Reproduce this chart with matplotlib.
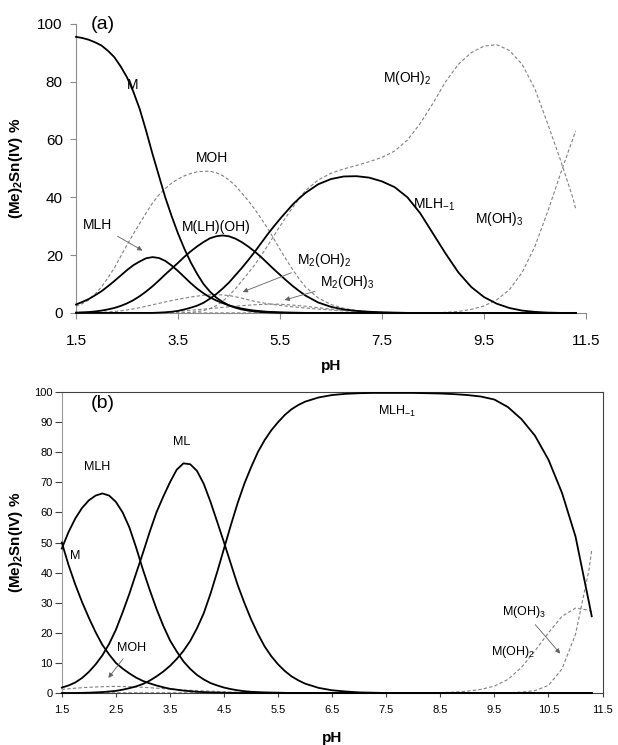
import matplotlib
matplotlib.use("Agg")
import matplotlib.pyplot as plt

plt.rcParams['font.family'] = ['Liberation Sans', 'DejaVu Sans']
plt.rcParams['mathtext.fontset'] = 'custom'
plt.rcParams['mathtext.rm'] = 'Liberation Sans'
plt.rcParams['mathtext.it'] = 'Liberation Sans:italic'
plt.rcParams['mathtext.bf'] = 'Liberation Sans:bold'

# pH sample points, finer where the peaks are (same for both panels)
ph = [1.5, 1.625, 1.75, 1.875, 2.0, 2.125, 2.25, 2.375, 2.5, 2.625,
      2.75, 2.875, 3.0, 3.125, 3.25, 3.375, 3.5, 3.625, 3.75, 3.875,
      4.0, 4.125, 4.25, 4.375, 4.5, 4.625, 4.75, 4.875, 5.0, 5.125,
      5.25, 5.375, 5.5, 5.625, 5.75, 5.875, 6.0,
      6.25, 6.5, 6.75, 7.0, 7.25, 7.5, 7.75, 8.0, 8.25, 8.5, 8.75,
      9.0, 9.25, 9.5, 9.75, 10.0, 10.25, 10.5, 10.75, 11.0, 11.25, 11.3]

# ---- panel (a) ----
a_M = [95.5, 95.1, 94.5, 93.6, 92.5, 90.7, 88.5, 85.3, 81.5, 76.5,
       70.5, 63, 55, 47.5, 40, 33.5, 27.5, 22.2, 17.5, 13.5,
       10, 7.4, 5.3, 3.8, 2.6, 1.8, 1.2, 0.8, 0.5, 0.3,
       0.2, 0.1, 0.05, 0, 0, 0, 0,
       0, 0, 0, 0, 0, 0, 0, 0, 0, 0, 0,
       0, 0, 0, 0, 0, 0, 0, 0, 0, 0, 0]
a_MLH = [2.9, 3.8, 4.8, 6.1, 7.5, 9.2, 11, 12.9, 14.8, 16.5,
         17.8, 18.9, 19.3, 19, 18, 16.4, 14.5, 12.4, 10.3, 8.4,
         6.8, 5.4, 4.3, 3.4, 2.6, 2, 1.5, 1.1, 0.8, 0.6,
         0.4, 0.3, 0.2, 0.15, 0.1, 0.05, 0,
         0, 0, 0, 0, 0, 0, 0, 0, 0, 0, 0,
         0, 0, 0, 0, 0, 0, 0, 0, 0, 0, 0]
a_MLHOH = [0.1, 0.2, 0.3, 0.5, 0.8, 1.2, 1.7, 2.4, 3.3, 4.4,
           5.8, 7.4, 9.2, 11.2, 13.3, 15.3, 17.3, 19.4, 21.3, 23,
           24.5, 25.8, 26.5, 26.8, 26.5, 25.7, 24.5, 23, 21.3, 19.4,
           17.3, 15.2, 13.2, 11.2, 9.3, 7.6, 6,
           3.6, 2.1, 1.2, 0.7, 0.4, 0.2, 0.1, 0, 0, 0, 0,
           0, 0, 0, 0, 0, 0, 0, 0, 0, 0, 0]
a_MLHm1 = [0, 0, 0, 0, 0, 0, 0, 0, 0, 0,
           0, 0, 0, 0.1, 0.2, 0.4, 0.7, 1.2, 1.8, 2.5,
           3.5, 4.9, 6.5, 8.4, 10.5, 13, 15.5, 18.2, 21, 24,
           27, 29.8, 32.5, 35, 37.5, 39.6, 41.5,
           44.5, 46.3, 47.2, 47.3, 46.8, 45.5, 43.5, 40, 34.5, 27.5, 20.5,
           14, 9, 5.5, 3.2, 1.7, 0.8, 0.35, 0.1, 0, 0, 0]
a_MOH = [2.3, 3.2, 4.5, 6.5, 9, 12.1, 15.5, 19.5, 23.5, 27.3,
         31, 34.6, 38, 40.8, 43, 44.9, 46.3, 47.4, 48.2, 48.8,
         49, 49, 48.5, 47.5, 46, 44, 41.5, 38.9, 36, 32.8,
         29.5, 25.8, 22, 18.4, 15, 11.8, 9,
         5.2, 2.9, 1.6, 0.8, 0.4, 0.2, 0.1, 0, 0, 0, 0,
         0, 0, 0, 0, 0, 0, 0, 0, 0, 0, 0]
a_M2OH2 = [0, 0, 0, 0.1, 0.2, 0.35, 0.5, 0.7, 1, 1.4,
           1.8, 2.3, 2.8, 3.3, 3.8, 4.25, 4.7, 5.1, 5.5, 5.8,
           6.1, 6.25, 6.3, 6.2, 6, 5.6, 5.1, 4.55, 4, 3.6,
           3.2, 2.9, 2.6, 2.35, 2.1, 1.9, 1.7,
           1.3, 1, 0.7, 0.5, 0.3, 0.2, 0.1, 0, 0, 0, 0,
           0, 0, 0, 0, 0, 0, 0, 0, 0, 0, 0]
a_M2OH3 = [0, 0, 0, 0, 0, 0, 0, 0, 0, 0,
           0, 0, 0, 0.1, 0.2, 0.35, 0.5, 0.7, 0.9, 1.1,
           1.3, 1.5, 1.7, 1.9, 2.1, 2.3, 2.5, 2.65, 2.8, 2.9,
           3, 3.05, 3, 2.85, 2.7, 2.5, 2.3,
           1.8, 1.3, 0.9, 0.6, 0.4, 0.2, 0.1, 0, 0, 0, 0,
           0, 0, 0, 0, 0, 0, 0, 0, 0, 0, 0]
a_MOH2 = [0, 0, 0, 0, 0, 0, 0, 0, 0, 0,
          0, 0, 0, 0, 0, 0, 0, 0.05, 0.2, 0.45,
          0.8, 1.5, 2.5, 4, 6, 8.3, 11, 13.7, 16.5, 19.7,
          23, 26.5, 30, 33.3, 36.5, 39.5, 42.3,
          46, 48.3, 49.8, 51, 52.3, 53.8, 56, 59.8, 65.5, 72.5, 80,
          86, 90, 92.3, 92.8, 90.8, 86, 77.5, 65.5, 53, 39.5, 36]
a_MOH3 = [0, 0, 0, 0, 0, 0, 0, 0, 0, 0,
          0, 0, 0, 0, 0, 0, 0, 0, 0, 0,
          0, 0, 0, 0, 0, 0, 0, 0, 0, 0,
          0, 0, 0, 0, 0, 0, 0,
          0, 0, 0, 0, 0, 0, 0, 0, 0, 0, 0.2,
          0.5, 1.2, 2.4, 4.5, 8, 14, 23, 35, 48, 60.5, 63]

# ---- panel (b) ----
b_M = [50, 42.5, 36, 30.2, 25, 20.2, 16, 12.8, 10, 8.1,
       6.5, 5.1, 4, 3.2, 2.5, 1.9, 1.4, 1.1, 0.8, 0.6,
       0.4, 0.3, 0.2, 0.15, 0.1, 0.05, 0, 0, 0, 0,
       0, 0, 0, 0, 0, 0, 0,
       0, 0, 0, 0, 0, 0, 0, 0, 0, 0, 0,
       0, 0, 0, 0, 0, 0, 0, 0, 0, 0, 0]
b_MLH = [48, 53.5, 58, 61.5, 64, 65.6, 66.3, 65.6, 63.5, 60,
         55, 48.3, 41, 34.3, 28, 22.4, 17.5, 13.8, 10.5, 8,
         6, 4.5, 3.3, 2.5, 1.8, 1.3, 0.9, 0.6, 0.4, 0.3,
         0.2, 0.15, 0.1, 0.05, 0, 0, 0,
         0, 0, 0, 0, 0, 0, 0, 0, 0, 0, 0,
         0, 0, 0, 0, 0, 0, 0, 0, 0, 0, 0]
b_ML = [1.8, 2.5, 3.5, 5, 7, 9.5, 12.5, 16.3, 21, 26.8,
        33, 39.8, 46.5, 53.5, 60, 65.2, 70, 74.2, 76.3, 76,
        73.8, 69.5, 63.5, 56.8, 50, 43, 36, 30, 24.5, 19.7,
        15.5, 12.2, 9.5, 7.3, 5.5, 4.2, 3.1,
        1.7, 0.9, 0.5, 0.2, 0.1, 0, 0, 0, 0, 0, 0,
        0, 0, 0, 0, 0, 0, 0, 0, 0, 0, 0]
b_MLHm1 = [0, 0, 0, 0.05, 0.1, 0.2, 0.3, 0.5, 0.7, 1.1,
           1.6, 2.2, 3, 4.1, 5.5, 7.1, 9, 11.3, 14, 17.3,
           21.5, 26.5, 33, 40.3, 48, 55.7, 63, 69.5, 75, 80,
           84, 87.3, 90, 92.4, 94.3, 95.7, 96.8,
           98.2, 99, 99.4, 99.6, 99.7, 99.7, 99.7, 99.7, 99.6, 99.5, 99.3,
           99, 98.5, 97.5, 95, 91, 85.5, 77.5, 66.5, 52, 30, 25.5]
b_MOH = [1.2, 1.4, 1.6, 1.75, 1.9, 2, 2.1, 2.15, 2.2, 2.15,
         2.1, 2, 1.9, 1.75, 1.6, 1.45, 1.3, 1.15, 1.0, 0.9,
         0.8, 0.7, 0.6, 0.5, 0.4, 0.3, 0.25, 0.15, 0.1, 0.07,
         0.05, 0, 0, 0, 0, 0, 0,
         0, 0, 0, 0, 0, 0, 0, 0, 0, 0, 0,
         0, 0, 0, 0, 0, 0, 0, 0, 0, 0, 0]
b_MOH2 = [0, 0, 0, 0, 0, 0, 0, 0, 0, 0,
          0, 0, 0, 0, 0, 0, 0, 0, 0, 0,
          0, 0, 0, 0, 0, 0, 0, 0, 0, 0,
          0, 0, 0, 0, 0, 0, 0,
          0, 0, 0, 0, 0, 0, 0, 0, 0, 0.1, 0.3,
          0.6, 1.2, 2.3, 4.5, 8.5, 14, 20, 25.5, 28.2, 27.5, 27]
b_MOH3 = [0, 0, 0, 0, 0, 0, 0, 0, 0, 0,
          0, 0, 0, 0, 0, 0, 0, 0, 0, 0,
          0, 0, 0, 0, 0, 0, 0, 0, 0, 0,
          0, 0, 0, 0, 0, 0, 0,
          0, 0, 0, 0, 0, 0, 0, 0, 0, 0, 0,
          0, 0, 0, 0.1, 0.3, 0.8, 2.5, 8, 19.5, 41, 47.5]

ylab = '(Me)$_\\mathbf{2}$Sn(IV) %'
solid = dict(color='black', lw=1.3, clip_on=False, zorder=3)
dash = dict(color='#808080', lw=0.8, ls=(0, (3, 2)), clip_on=False, zorder=2)
arrow = dict(arrowstyle='-|>', color='#606060', lw=0.6, mutation_scale=7)

fig = plt.figure(figsize=(6.18, 7.45), dpi=100)

# ---------- top panel ----------
ax1 = fig.add_axes([0.123, 0.580, 0.825, 0.388])
for y in [a_MOH, a_M2OH2, a_M2OH3, a_MOH2, a_MOH3]:
    ax1.plot(ph, y, **dash)
for y in [a_M, a_MLH, a_MLHOH, a_MLHm1]:
    ax1.plot(ph, y, **solid)
ax1.set_xlim(1.5, 11.5)
ax1.set_ylim(0, 100)
ax1.set_xticks([1.5, 3.5, 5.5, 7.5, 9.5, 11.5])
ax1.set_yticks([0, 20, 40, 60, 80, 100])
ax1.set_xticklabels(['1.5', '3.5', '5.5', '7.5', '9.5', '11.5'])
ax1.spines['top'].set_visible(False)
ax1.spines['right'].set_visible(False)
for s in ['left', 'bottom']:
    ax1.spines[s].set_color('#8c8c8c')
    ax1.spines[s].set_linewidth(0.8)
ax1.tick_params(axis='x', direction='out', length=4.5, width=0.8, color='#8c8c8c', pad=11, labelsize=11)
ax1.tick_params(axis='y', direction='out', length=4.5, width=0.8, color='#8c8c8c', pad=5, labelsize=11)
ax1.set_xlabel('pH', fontsize=11, fontweight='bold')
ax1.xaxis.set_label_coords(0.5, -0.159)
ax1.set_ylabel(ylab, fontsize=11, fontweight='bold')
ax1.yaxis.set_label_coords(-0.10, 0.5)

ax1.text(2.03, 99.6, '(a)', fontsize=14, ha='center', va='center')
ax1.text(2.62, 79, 'M', fontsize=10, ha='center', va='center')
ax1.text(4.17, 53.6, 'MOH', fontsize=10, ha='center', va='center')
ax1.text(4.26, 29.8, 'M(LH)(OH)', fontsize=10, ha='center', va='center')
ax1.text(7.99, 81.3, 'M(OH)$_2$', fontsize=10, ha='center', va='center')
ax1.text(8.1, 37.5, 'MLH$_{-1}$', fontsize=10, ha='left', va='center')
ax1.text(9.81, 32.5, 'M(OH)$_3$', fontsize=10, ha='center', va='center')
ax1.annotate('MLH', xy=(2.85, 21.1), xytext=(1.93, 30.4), fontsize=10,
             ha='center', va='center', arrowprops=arrow)
ax1.annotate('M$_2$(OH)$_2$', xy=(4.72, 6.9), xytext=(6.36, 18.3), fontsize=10,
             ha='center', va='center', arrowprops=arrow)
ax1.annotate('M$_2$(OH)$_3$', xy=(5.54, 4.2), xytext=(6.83, 10.7), fontsize=10,
             ha='center', va='center', arrowprops=arrow)

# ---------- bottom panel ----------
ax2 = fig.add_axes([0.100, 0.0698, 0.875, 0.404])
for y in [b_MOH, b_MOH2, b_MOH3]:
    ax2.plot(ph, y, **dash)
for y in [b_M, b_MLH, b_ML, b_MLHm1]:
    ax2.plot(ph, y, **solid)
ax2.set_xlim(1.5, 11.5)
ax2.set_ylim(0, 100)
ax2.set_xticks([1.5, 2.5, 3.5, 4.5, 5.5, 6.5, 7.5, 8.5, 9.5, 10.5, 11.5])
ax2.set_yticks([0, 10, 20, 30, 40, 50, 60, 70, 80, 90, 100])
for s in ['top', 'right', 'bottom']:
    ax2.spines[s].set_color('#404040')
    ax2.spines[s].set_linewidth(0.8)
ax2.spines['left'].set_color('#9a9a9a')
ax2.spines['left'].set_linewidth(0.8)
ax2.tick_params(axis='x', direction='out', length=3, width=0.8, color='#404040', pad=6, labelsize=8)
ax2.tick_params(axis='y', direction='out', length=5, width=0.8, color='#404040', pad=1.5, labelsize=8)
ax2.set_xlabel('pH', fontsize=11, fontweight='bold')
ax2.xaxis.set_label_coords(0.5, -0.126)
ax2.set_ylabel(ylab, fontsize=11, fontweight='bold')
ax2.yaxis.set_label_coords(-0.068, 0.5)

ax2.text(2.26, 96.3, '(b)', fontsize=14, ha='center', va='center')
ax2.text(1.74, 45.5, 'M', fontsize=9, ha='center', va='center')
ax2.text(2.15, 75, 'MLH', fontsize=9, ha='center', va='center')
ax2.text(3.72, 83.4, 'ML', fontsize=9, ha='center', va='center')
ax2.text(7.7, 93.5, 'MLH$_{-1}$', fontsize=9, ha='center', va='center')
ax2.text(9.85, 13.5, 'M(OH)$_2$', fontsize=9, ha='center', va='center')
ax2.annotate('MOH', xy=(2.33, 4.3), xytext=(2.79, 15), fontsize=9,
             ha='center', va='center', arrowprops=arrow)
ax2.annotate('M(OH)$_3$', xy=(10.75, 12.4), xytext=(10.05, 27), fontsize=9,
             ha='center', va='center', arrowprops=arrow)

fig.savefig('out.png', dpi=100)
